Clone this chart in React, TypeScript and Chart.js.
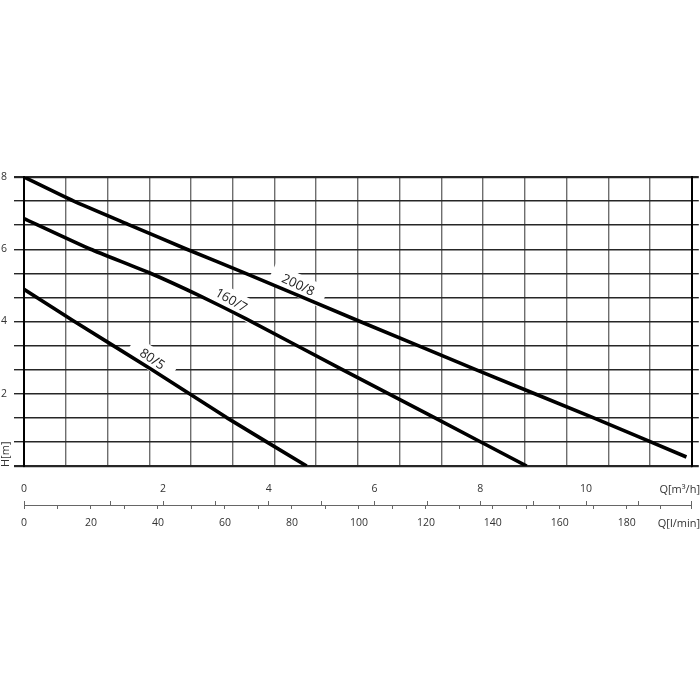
import React, { useEffect, useRef } from 'react';
import { Chart, registerables } from 'chart.js';

Chart.register(...registerables);

// Pump curves: Q [l/min] vs H [m]
const Q_200_8 = [0, 14.7, 31.6, 48.6, 66.0, 99.8, 134.9, 170.1, 197.8];
const H_200_8 = [8.0, 7.34, 6.67, 6.0, 5.34, 4.02, 2.67, 1.33, 0.25];

const Q_160_7 = [0, 19.9, 37.4, 53.0, 66.2, 95.2, 122.7, 150.1];
const H_160_7 = [6.85, 6.0, 5.35, 4.69, 4.08, 2.66, 1.33, 0];

const Q_80_5 = [0, 14.7, 38.1, 60.5, 84.4];
const H_80_5 = [4.89, 4.02, 2.67, 1.34, 0];

const CURVE_NAMES = ['200/8', '160/7', '80/5'];
const LABEL_Q = [81.8, 61.8, 38.2];
const LABEL_H = [5.0, 4.58, 2.95];
const LABEL_ANGLE = [25, 30, 34];

// Axes
const Y_TICKS = [0, 0.6667, 1.3333, 2, 2.6667, 3.3333, 4, 4.6667, 5.3333, 6, 6.6667, 7.3333, 8];
const Y_TICK_LABELS = ['', '', '', '2', '', '', '4', '', '', '6', '', '', '8'];
const GRID_COLUMNS = [0, 1, 2, 3, 4, 5, 6, 7, 8, 9, 10, 11, 12, 13, 14, 15, 16];
const M3H_TICKS = [-0.63, 1, 2, 3, 4, 5, 6, 7, 8, 9, 10, 11, 12];
const M3H_TICK_LABELS = ['0', '', '2', '', '4', '', '6', '', '8', '', '10', '', ''];
const LMIN_TICKS = [0, 10, 20, 30, 40, 50, 60, 70, 80, 90, 100, 110, 120, 130, 140, 150, 160, 170, 180, 190, 199.4];
const LMIN_TICK_LABELS = ['0', '', '20', '', '40', '', '60', '', '80', '', '100', '', '120', '', '140', '', '160', '', '180', '', ''];

const FONT = '"Open Sans", "DejaVu Sans", sans-serif';
const TEXT_COLOR = '#333';

const pts = (qs: number[], hs: number[]) => qs.map((q, i) => ({ x: q, y: hs[i] }));

const overlayPlugin = {
  id: 'overlay',
  beforeDatasetsDraw(chart: any) {
    const ctx = chart.ctx;
    const xs = chart.scales.xl;
    const ys = chart.scales.y;
    ctx.save();
    ctx.font = `13px ${FONT}`;
    const items = CURVE_NAMES.map((name, i) => ({
      name,
      px: xs.getPixelForValue(LABEL_Q[i]),
      py: ys.getPixelForValue(LABEL_H[i]),
      a: (LABEL_ANGLE[i] * Math.PI) / 180,
      w: ctx.measureText(name).width,
    }));
    items.forEach((it) => {
      ctx.save();
      ctx.translate(it.px, it.py);
      ctx.rotate(it.a);
      ctx.fillStyle = '#fff';
      ctx.fillRect(-it.w / 2 - 12, -11, it.w + 24, 22);
      ctx.restore();
    });
    items.forEach((it) => {
      ctx.save();
      ctx.translate(it.px, it.py);
      ctx.rotate(it.a);
      ctx.fillStyle = '#222';
      ctx.textAlign = 'center';
      ctx.textBaseline = 'middle';
      ctx.fillText(it.name, 0, 0);
      ctx.restore();
    });
    ctx.restore();
  },
  afterDraw(chart: any) {
    const ctx = chart.ctx;
    const xm = chart.scales.xm;
    const xl = chart.scales.xl;
    ctx.save();
    ctx.font = `11px ${FONT}`;
    ctx.fillStyle = TEXT_COLOR;
    ctx.textAlign = 'right';
    ctx.textBaseline = 'middle';
    ctx.fillText('Q[m³/h]', chart.width, xm.top - 11.5);
    ctx.fillText('Q[l/min]', chart.width, xl.top + 18.5);
    ctx.translate(6, chart.chartArea.bottom + 1);
    ctx.rotate(-Math.PI / 2);
    ctx.textAlign = 'left';
    ctx.fillText('H[m]', 0, 0);
    ctx.restore();
  },
};

export default function App() {
  const canvasRef = useRef<HTMLCanvasElement | null>(null);

  useEffect(() => {
    if (!canvasRef.current) return;
    const hLineWidth = (c: any) =>
      c.tick && (c.tick.value === 0 || c.tick.value === 8) ? 2.2 : 1.4;
    const chart = new Chart(canvasRef.current, {
      type: 'line',
      data: {
        datasets: [
          { label: '200/8', data: pts(Q_200_8, H_200_8) },
          { label: '160/7', data: pts(Q_160_7, H_160_7) },
          { label: '80/5', data: pts(Q_80_5, H_80_5) },
        ].map((d) => ({
          ...d,
          xAxisID: 'xl',
          yAxisID: 'y',
          borderColor: '#000',
          borderWidth: 3.6,
          borderCapStyle: 'butt' as const,
          borderJoinStyle: 'round' as const,
          pointRadius: 0,
          tension: 0.15,
          fill: false,
        })),
      },
      options: {
        responsive: false,
        animation: false,
        events: [],
        layout: { padding: { top: 177, bottom: 165, left: 0, right: 0 } },
        plugins: { legend: { display: false }, tooltip: { enabled: false } },
        scales: {
          xg: {
            type: 'linear',
            position: 'bottom',
            weight: 1,
            min: 0,
            max: 16,
            afterBuildTicks: (s: any) => {
              s.ticks = GRID_COLUMNS.map((v) => ({ value: v }));
            },
            afterFit: (s: any) => {
              s.height = 35;
            },
            ticks: { display: false },
            grid: { color: '#6e6e6e', lineWidth: 1.4, drawTicks: false },
            border: { display: false },
          },
          xm: {
            type: 'linear',
            position: 'bottom',
            weight: 2,
            min: M3H_TICKS[0],
            max: 12,
            afterBuildTicks: (s: any) => {
              s.ticks = M3H_TICKS.map((v) => ({ value: v }));
            },
            afterFit: (s: any) => {
              s.height = 4;
            },
            ticks: {
              autoSkip: false,
              maxRotation: 0,
              mirror: true,
              padding: 5.2,
              color: TEXT_COLOR,
              font: { family: FONT, size: 10.5 },
              callback: (_v: any, i: number) => M3H_TICK_LABELS[i],
            },
            grid: { drawOnChartArea: false, drawTicks: true, tickLength: 4, color: '#666', lineWidth: 1 },
            border: { display: false },
          },
          xl: {
            type: 'linear',
            position: 'bottom',
            weight: 3,
            min: 0,
            max: 199.4,
            afterBuildTicks: (s: any) => {
              s.ticks = LMIN_TICKS.map((v) => ({ value: v }));
            },
            afterFit: (s: any) => {
              s.height = 30;
            },
            ticks: {
              autoSkip: false,
              maxRotation: 0,
              padding: 8.2,
              color: TEXT_COLOR,
              font: { family: FONT, size: 10.5 },
              callback: (_v: any, i: number) => LMIN_TICK_LABELS[i],
            },
            grid: { drawOnChartArea: false, drawTicks: true, tickLength: 4, color: '#666', lineWidth: 1 },
            border: { display: true, color: '#666', width: 1 },
          },
          y: {
            type: 'linear',
            position: 'left',
            min: 0,
            max: 8,
            afterBuildTicks: (s: any) => {
              s.ticks = Y_TICKS.map((v) => ({ value: v }));
            },
            afterFit: (s: any) => {
              s.width = 24;
            },
            ticks: {
              autoSkip: false,
              padding: 7,
              color: TEXT_COLOR,
              font: { family: FONT, size: 10.5 },
              callback: (_v: any, i: number) => Y_TICK_LABELS[i],
            },
            grid: { color: '#262626', lineWidth: hLineWidth, drawTicks: true, tickLength: 10 },
            border: { display: true, color: '#000', width: 2 },
          },
          y2: {
            type: 'linear',
            position: 'right',
            min: 0,
            max: 8,
            afterBuildTicks: (s: any) => {
              s.ticks = Y_TICKS.map((v) => ({ value: v }));
            },
            afterFit: (s: any) => {
              s.width = 8;
            },
            ticks: { display: false },
            grid: { drawOnChartArea: false, color: '#262626', lineWidth: hLineWidth, drawTicks: true, tickLength: 7 },
            border: { display: true, color: '#000', width: 2 },
          },
        },
      } as any,
      plugins: [overlayPlugin],
    });
    return () => chart.destroy();
  }, []);

  return (
    <div style={{ position: 'absolute', left: 0, top: 0, width: 700, height: 700, background: '#fff' }}>
      <canvas ref={canvasRef} width={700} height={700} style={{ display: 'block' }} />
    </div>
  );
}
